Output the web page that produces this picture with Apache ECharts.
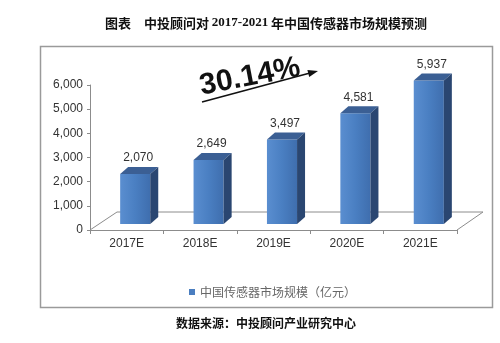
<!DOCTYPE html>
<html>
<head>
<meta charset="utf-8">
<script src="https://cdn.jsdelivr.net/npm/echarts@6/dist/echarts.min.js"></script>
<style>html,body{margin:0;padding:0;background:#fff;}#c{width:500px;height:343px;}</style>
</head>
<body>
<div id="c"></div>
<script>
const categories = ['2017E', '2018E', '2019E', '2020E', '2021E'];
const marketSize = [2070, 2649, 3497, 4581, 5937];
const yTicks = [0, 1000, 2000, 3000, 4000, 5000, 6000];
const seriesName = '中国传感器市场规模（亿元）';
const growthText = '30.14%';

const chart = echarts.init(document.getElementById('c'), null, {renderer: 'canvas'});
const LATIN = "'Liberation Sans', Arial, sans-serif";
const CJK = "'Noto Sans CJK SC', sans-serif";

function fmt(v) { return String(v).replace(/\B(?=(\d{3})+(?!\d))/g, ','); }

const DX = 8, DY = -7, SHIFT_X = 8.5, SHIFT_Y = -6;

function renderBar(params, api) {
  const cat = api.value(0), v = api.value(1);
  const top = api.coord([cat, v]);
  const base = api.coord([cat, 0]);
  const w = api.size([1, 0])[0] * 0.41;
  const cx = top[0] + SHIFT_X;
  const x0 = cx - w / 2, x1 = cx + w / 2;
  const yt = top[1] + SHIFT_Y, yb = base[1] + SHIFT_Y;
  return {
    type: 'group',
    children: [
      {type: 'rect', shape: {x: x0, y: yt, width: w, height: yb - yt},
        style: {fill: new echarts.graphic.LinearGradient(0, 0, 1, 0, [
          {offset: 0, color: '#5a8ed0'}, {offset: 0.5, color: '#4a7fc2'}, {offset: 1, color: '#3f6eae'}])}},
      {type: 'polygon', shape: {points: [[x0, yt], [x0 + DX, yt + DY], [x1 + DX, yt + DY], [x1, yt]]},
        style: {fill: '#3b5f94'}},
      {type: 'polygon', shape: {points: [[x1, yt], [x1 + DX, yt + DY], [x1 + DX, yb + DY], [x1, yb]]},
        style: {fill: '#2a4671'}},
      {type: 'text', x: cx + 3, y: yt - 16,
        style: {text: fmt(v), textAlign: 'center', textVerticalAlign: 'middle',
          font: '12px ' + LATIN, fill: '#333'}}
    ]
  };
}

function renderFloor(params, api) {
  if (params.dataIndex !== 0) return;
  const cs = params.coordSys;
  const x = cs.x, yF = cs.y + cs.height, w = cs.width;
  const bx = 27, by = -18;
  const st = {stroke: '#8c8c8c', lineWidth: 1, fill: null};
  return {
    type: 'group', silent: true,
    children: [
      {type: 'polyline', shape: {points: [[x, yF], [x + bx, yF + by], [x + w + bx - 1, yF + by], [x + w, yF]]}, style: st}
    ]
  };
}

const option = {
  backgroundColor: '#fff',
  animation: false,
  grid: {left: 90, right: 43, top: 85, bottom: 113, containLabel: false},
  xAxis: {
    type: 'category', data: categories,
    axisLine: {show: true, lineStyle: {color: '#8c8c8c', width: 1}},
    axisTick: {show: true, length: 4, lineStyle: {color: '#8c8c8c'}},
    axisLabel: {margin: 8, fontSize: 12, fontFamily: LATIN, color: '#333'}
  },
  yAxis: {
    type: 'value', min: yTicks[0], max: yTicks[yTicks.length - 1], interval: 1000,
    axisLine: {show: true, lineStyle: {color: '#8c8c8c', width: 1}},
    axisTick: {show: true, length: 3, lineStyle: {color: '#8c8c8c'}},
    splitLine: {show: false},
    axisLabel: {margin: 7, fontSize: 12, fontFamily: LATIN, color: '#333', formatter: fmt}
  },
  legend: {
    show: true, left: 184, top: 281, itemWidth: 6, itemHeight: 6, itemGap: 6,
    icon: 'rect', data: [seriesName],
    textStyle: {fontSize: 12, fontFamily: CJK, color: '#666'}
  },
  series: [
    {type: 'custom', name: 'floor', silent: true, renderItem: renderFloor,
      data: categories.map((c, i) => [i, 0]), z: 1},
    {type: 'custom', name: seriesName, renderItem: renderBar,
      itemStyle: {color: '#4a7ec0'},
      encode: {x: 0, y: 1},
      data: categories.map((c, i) => [i, marketSize[i]]), z: 2}
  ],
  graphic: [
    {type: 'rect', shape: {x: 40.5, y: 46.5, width: 452, height: 261},
      style: {fill: null, stroke: '#9a9a9a', lineWidth: 1.5}, z: 0},
    {type: 'text', x: 266, y: 23,
      style: {
        text: '{c|图表　中投顾问对 }{n|2017-2021}{c| 年中国传感器市场规模预测}',
        rich: {
          c: {fontFamily: CJK, fontWeight: 'bold', fontSize: 13, fill: '#111'},
          n: {fontFamily: "'Liberation Serif', serif", fontWeight: 'bold', fontSize: 13, fill: '#111'}
        },
        textAlign: 'center', textVerticalAlign: 'middle'
      }},
    {type: 'text', x: 266, y: 323,
      style: {text: '数据来源：中投顾问产业研究中心', font: 'bold 12px ' + CJK, fill: '#111',
        textAlign: 'center', textVerticalAlign: 'middle'}},
    {type: 'text', x: 250, y: 77, rotation: 0.19, originX: 0, originY: 0,
      style: {text: growthText, font: 'bold 30px ' + LATIN, fill: '#111',
        textAlign: 'center', textVerticalAlign: 'middle'}},
    {type: 'polyline', shape: {points: [[202, 102], [310, 73]]},
      style: {stroke: '#111', lineWidth: 1.6, fill: null}},
    {type: 'polygon', shape: {points: [[318, 71], [309.2, 77], [307.4, 70]]},
      style: {fill: '#111'}}
  ]
};
chart.setOption(option);
</script>
</body>
</html>
